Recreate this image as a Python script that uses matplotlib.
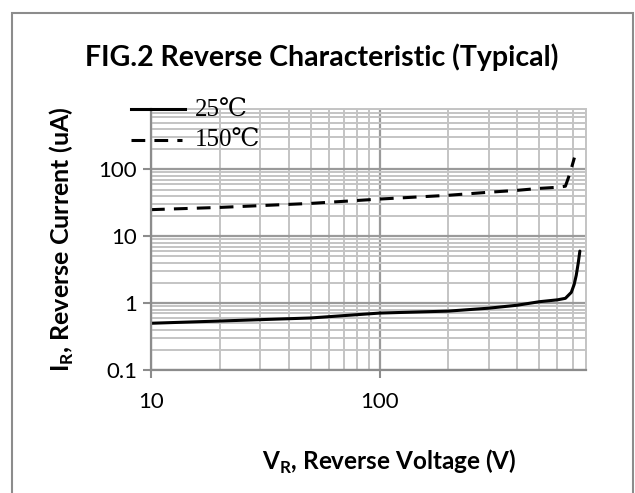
import matplotlib.pyplot as plt
from matplotlib.patches import Rectangle
from matplotlib.lines import Line2D

plt.rcParams['mathtext.fontset'] = 'custom'
plt.rcParams['mathtext.rm'] = 'Lato'
plt.rcParams['mathtext.bf'] = 'Lato:bold'

# reverse current vs reverse voltage
v_25 = [10, 20, 50, 100, 200, 300, 400, 500, 600, 650, 690, 710, 725, 740, 752]
i_25 = [0.5, 0.54, 0.6, 0.71, 0.76, 0.84, 0.93, 1.05, 1.12, 1.18, 1.45, 1.9, 2.6, 4.0, 6.0]

v_150 = [10, 20, 50, 100, 200, 300, 400, 500, 600, 650, 670, 690, 712]
i_150 = [25, 27, 31, 36, 41, 45.5, 48.6, 52, 54, 56, 75, 103, 150]

x_ticks = [10, 100]
y_ticks = [0.1, 1, 10, 100]
tick_labels_y = ['0.1', '1', '10', '100']

fig = plt.figure(figsize=(6.35, 4.93), dpi=100)
ax = fig.add_axes([151/635, 1-370/493, (586-151)/635, (370-109)/493])

# outer frame of the chart area
fig.patches.append(Rectangle((12/635, -0.05), (633-12)/635, 1.05-13/493,
                             transform=fig.transFigure, fill=False,
                             edgecolor='#8c8c8c', lw=1.5))

ax.plot(v_25, i_25, color='black', lw=2.2, solid_capstyle='round')
ax.plot(v_150, i_150, color='black', lw=2.2, linestyle=(0, (4.5, 3.0)))

ax.set_xscale('log')
ax.set_yscale('log')
ax.set_xlim(10, 800)
ax.set_ylim(0.1, 800)

ax.set_xticks(x_ticks)
ax.set_xticklabels(['10', '100'])
ax.set_yticks(y_ticks)
ax.set_yticklabels(tick_labels_y)
ax.tick_params(axis='both', which='major', direction='out', length=6, width=1.5,
               color='#8c8c8c', labelsize=16, pad=4)
ax.tick_params(axis='x', which='major', pad=10)
ax.tick_params(axis='both', which='minor', length=0)
for lab in ax.get_xticklabels() + ax.get_yticklabels():
    lab.set_fontfamily('Lato')

ax.grid(True, which='minor', color='#c4c4c4', lw=1.4)
ax.grid(True, which='major', color='#9a9a9a', lw=1.6)
ax.set_axisbelow(True)
for s in ['left', 'bottom']:
    ax.spines[s].set_color('#8c8c8c')
    ax.spines[s].set_linewidth(1.6)
for s in ['top', 'right']:
    ax.spines[s].set_color('#c4c4c4')
    ax.spines[s].set_linewidth(1.4)

fig.text(322/635, 1-57/493, 'FIG.2 Reverse Characteristic (Typical)',
         ha='center', va='center', fontsize=20.5, fontweight='bold', family='Lato')
fig.text(62/635, 1-239/493, r'I$_{\mathbf{R}}$, Reverse Current (uA)',
         ha='center', va='center', rotation=90, fontsize=18, fontweight='bold',
         family='Lato')
fig.text(389/635, 1-462/493, r'V$_{\mathbf{R}}$, Reverse Voltage (V)',
         ha='center', va='center', fontsize=17.5, fontweight='bold', family='Lato')

# legend drawn at the top left, over the axis
fig.lines.append(Line2D([131/635, 185/635], [1-109/493, 1-109/493],
                        transform=fig.transFigure, color='black', lw=2.2))
fig.lines.append(Line2D([131/635, 182/635], [1-140/493, 1-140/493],
                        transform=fig.transFigure, color='black', lw=2.2,
                        linestyle=(0, (4.5, 3.0))))
fig.text(195/635, 1-111/493, '25℃', ha='left', va='center', fontsize=18,
         family=['Liberation Serif', 'DejaVu Serif'])
fig.text(195/635, 1-141/493, '150℃', ha='left', va='center', fontsize=18,
         family=['Liberation Serif', 'DejaVu Serif'])

fig.savefig('out.png', dpi=100)
